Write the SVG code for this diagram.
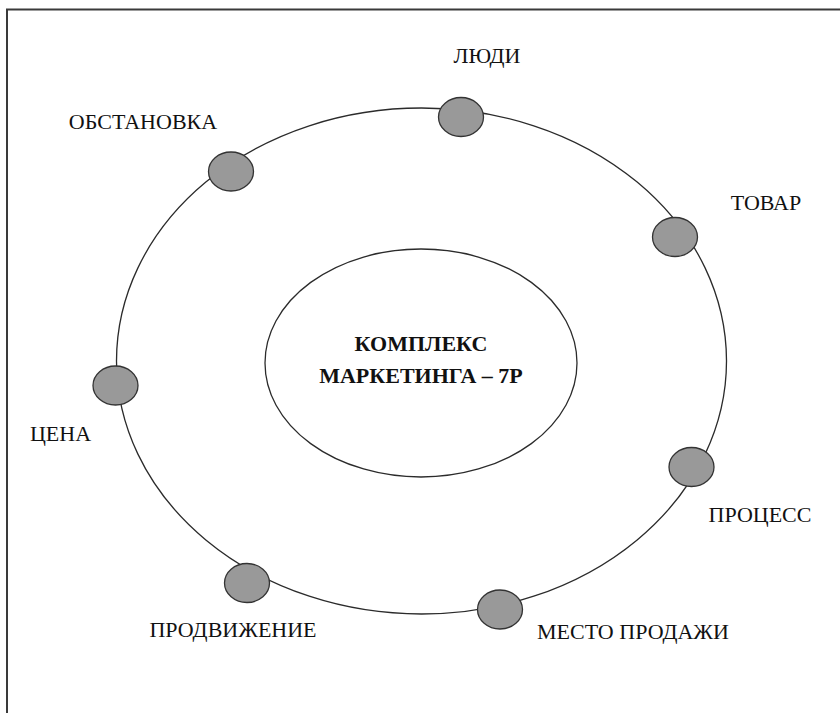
<svg xmlns="http://www.w3.org/2000/svg" width="840" height="713" viewBox="0 0 840 713">
  <style>
    .frame { fill: none; stroke: #3a3a3a; stroke-width: 2; }
    .ring { fill: none; stroke: #2b2b2b; stroke-width: 1.3; }
    .core { fill: #ffffff; stroke: #2b2b2b; stroke-width: 1.3; }
    .dot { fill: #999999; stroke: #333333; stroke-width: 1.3; }
    .lbl { font-family: "Liberation Serif", "DejaVu Serif", serif; font-size: 22px; fill: #111111; text-anchor: middle; }
    .title { font-family: "Liberation Serif", "DejaVu Serif", serif; font-size: 22px; font-weight: bold; fill: #111111; text-anchor: middle; }
  </style>

  <rect width="840" height="713" fill="#ffffff"/>
  <!-- page frame: only top and left edges fall inside the view -->
  <path class="frame" d="M7,713 V9.5 H840"/>

  <!-- outer ring linking the seven elements -->
  <g id="connectors">
    <ellipse class="ring" cx="421.5" cy="361" rx="305" ry="253"/>
  </g>

  <g id="center">
    <ellipse class="core" cx="421" cy="363" rx="156" ry="114"/>
    <text class="title" x="421" y="351">КОМПЛЕКС</text>
    <text class="title" x="421" y="383">МАРКЕТИНГА – 7P</text>
  </g>

  <g id="people">
    <ellipse class="dot" cx="461" cy="117" rx="22.5" ry="19.5"/>
    <text class="lbl" x="487" y="63">ЛЮДИ</text>
  </g>

  <g id="product">
    <ellipse class="dot" cx="675" cy="237" rx="22.5" ry="19.5"/>
    <text class="lbl" x="766" y="210">ТОВАР</text>
  </g>

  <g id="process">
    <ellipse class="dot" cx="691.5" cy="467" rx="22.5" ry="19.5"/>
    <text class="lbl" x="760" y="522">ПРОЦЕСС</text>
  </g>

  <g id="place">
    <ellipse class="dot" cx="500" cy="609.5" rx="22.5" ry="19.5"/>
    <text class="lbl" x="633" y="639">МЕСТО ПРОДАЖИ</text>
  </g>

  <g id="promotion">
    <ellipse class="dot" cx="247" cy="583" rx="22.5" ry="19.5"/>
    <text class="lbl" x="233" y="637">ПРОДВИЖЕНИЕ</text>
  </g>

  <g id="price">
    <ellipse class="dot" cx="115.5" cy="385.5" rx="22.5" ry="19.5"/>
    <text class="lbl" x="60.5" y="441">ЦЕНА</text>
  </g>

  <g id="physical-evidence">
    <ellipse class="dot" cx="231" cy="171.5" rx="22.5" ry="19.5"/>
    <text class="lbl" x="143" y="129">ОБСТАНОВКА</text>
  </g>
</svg>
